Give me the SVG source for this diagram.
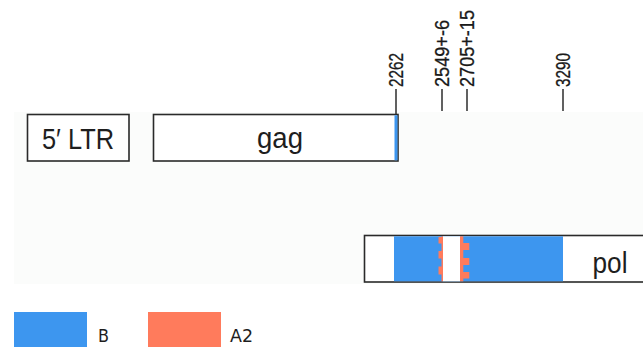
<svg xmlns="http://www.w3.org/2000/svg" width="643" height="347" viewBox="0 0 643 347">
  <style>
    .box { fill: #ffffff; stroke: #2a2a2a; stroke-width: 1.6; }
    .name { font-family: "Liberation Sans", Arial, sans-serif; font-size: 29px; fill: #1e1e1e; text-anchor: middle; }
    .pos { font-family: "Liberation Sans", Arial, sans-serif; font-size: 20px; fill: #1a1a1a; stroke: #1a1a1a; stroke-width: 0.3; }
    .tick { stroke: #1e1e1e; stroke-width: 1.4; }
    .key { font-family: "DejaVu Sans", "Liberation Sans", sans-serif; font-size: 17px; fill: #1e1e1e; }
    .b { fill: #3d96ef; }
    .a2 { fill: #ff7b5c; }
  </style>

  <!-- genome track backdrop -->
  <rect x="14" y="112" width="629" height="172" fill="#fbfcfb"/>

  <!-- position ticks above the genome -->
  <g id="ticks">
    <line class="tick" x1="396" y1="89" x2="396" y2="114"/>
    <line class="tick" x1="442" y1="89" x2="442" y2="111"/>
    <line class="tick" x1="467" y1="89" x2="467" y2="111"/>
    <line class="tick" x1="563" y1="89" x2="563" y2="111"/>
    <text class="pos" transform="translate(403,87) rotate(-90)" textLength="34" lengthAdjust="spacingAndGlyphs">2262</text>
    <text class="pos" transform="translate(449,87) rotate(-90)" textLength="67" lengthAdjust="spacingAndGlyphs">2549+-6</text>
    <text class="pos" transform="translate(474,87) rotate(-90)" textLength="77" lengthAdjust="spacingAndGlyphs">2705+-15</text>
    <text class="pos" transform="translate(570,87) rotate(-90)" textLength="34" lengthAdjust="spacingAndGlyphs">3290</text>
  </g>

  <g id="ltr5">
    <rect class="box" x="27.5" y="114.5" width="101.5" height="46.5"/>
    <text class="name" x="78" y="149" textLength="72" lengthAdjust="spacingAndGlyphs">5′ LTR</text>
  </g>

  <g id="gag">
    <rect class="box" x="153.5" y="114.5" width="244.5" height="46.5"/>
    <rect class="b" x="394.5" y="115.3" width="3" height="45"/>
    <text class="name" x="280" y="148" textLength="46" lengthAdjust="spacingAndGlyphs">gag</text>
  </g>

  <g id="pol">
    <rect class="box" x="364.5" y="235.5" width="290" height="46.5"/>
    <rect class="b" x="394" y="236.3" width="169" height="45"/>
    <rect x="443" y="236.3" width="17" height="45" fill="#ffffff"/>
    <!-- recombination breakpoint edges -->
    <rect class="a2" x="441.5" y="236.3" width="1.5" height="45"/>
    <rect class="a2" x="438.5" y="237" width="4.5" height="6.5"/>
    <rect class="a2" x="438.5" y="251" width="4.5" height="7.5"/>
    <rect class="a2" x="438.5" y="266.5" width="4.5" height="8"/>
    <rect class="a2" x="460" y="236.3" width="3.3" height="45"/>
    <rect class="a2" x="460" y="243" width="9.3" height="7"/>
    <rect class="a2" x="460" y="258" width="9.3" height="7"/>
    <rect class="a2" x="460" y="272" width="9.3" height="6.5"/>
    <text class="name" x="610" y="273" textLength="35" lengthAdjust="spacingAndGlyphs">pol</text>
  </g>

  <g id="legend">
    <rect class="b" x="14" y="312" width="73" height="35"/>
    <text class="key" x="98" y="342" textLength="11" lengthAdjust="spacingAndGlyphs">B</text>
    <rect class="a2" x="148" y="312" width="73" height="35"/>
    <text class="key" x="230" y="342" textLength="23" lengthAdjust="spacingAndGlyphs">A2</text>
  </g>
</svg>
